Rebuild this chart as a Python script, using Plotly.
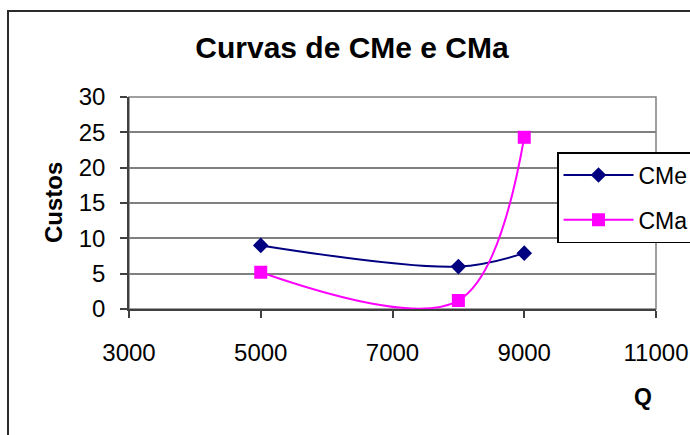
import plotly.graph_objects as go

# Quantidades produzidas e custos médios / marginais
quantidades = [5000, 8000, 9000]
cme = [9.0, 6.0, 7.9]
cma = [5.2, 1.2, 24.3]

x_ticks = [3000, 5000, 7000, 9000, 11000]
y_ticks = [0, 5, 10, 15, 20, 25, 30]

FONT = "Arial, Liberation Sans, sans-serif"
W, H = 690, 435
ML, MR, MT, MB = 129, 34, 97, 126
PW, PH = W - ML - MR, H - MT - MB


def px_to_paper_x(px):
    return (px - ML) / PW


def px_to_paper_y(py):
    return 1 - (py - MT) / PH


fig = go.Figure()

fig.add_trace(go.Scatter(
    x=quantidades, y=cme, name="CMe", legendgroup="cme",
    mode="lines+markers",
    line=dict(color="#000080", width=2, shape="spline", smoothing=1),
    marker=dict(symbol="diamond", size=12, color="#000080"),
))
fig.add_trace(go.Scatter(
    x=quantidades, y=cma, name="CMa", legendgroup="cma",
    mode="lines+markers",
    line=dict(color="#FF00FF", width=2, shape="spline", smoothing=1),
    marker=dict(symbol="square", size=13, color="#FF00FF"),
))

# Moldura da área do gráfico e da área de plotagem
fig.add_shape(type="rect", xref="paper", yref="paper",
              x0=px_to_paper_x(8), x1=px_to_paper_x(720),
              y0=px_to_paper_y(470), y1=px_to_paper_y(11),
              line=dict(color="#2b2b2b", width=2), layer="below")
fig.add_shape(type="rect", xref="paper", yref="paper",
              x0=0, x1=1, y0=0, y1=1,
              line=dict(color="#808080", width=1.5), layer="below")

fig.add_annotation(text="<b>Custos</b>", xref="paper", yref="paper",
                   x=px_to_paper_x(53), y=0.5, textangle=-90,
                   showarrow=False, xanchor="center", yanchor="middle",
                   font=dict(family=FONT, size=24, color="black"))
fig.add_annotation(text="<b>Q</b>", xref="paper", yref="paper",
                   x=px_to_paper_x(643), y=px_to_paper_y(397),
                   showarrow=False, xanchor="center", yanchor="middle",
                   font=dict(family=FONT, size=23, color="black"))

fig.update_layout(
    width=W, height=H,
    margin=dict(l=ML, r=MR, t=MT, b=MB, autoexpand=False),
    paper_bgcolor="white", plot_bgcolor="white",
    font=dict(family=FONT, color="black"),
    title=dict(text="<b>Curvas de CMe e CMa</b>", xref="container", yref="container",
               x=352 / W, y=1 - 47.5 / H, xanchor="center", yanchor="middle",
               font=dict(family=FONT, size=30, color="black")),
    showlegend=True,
    legend=dict(x=px_to_paper_x(557), y=px_to_paper_y(152),
                xanchor="left", yanchor="top",
                bgcolor="white", bordercolor="black", borderwidth=1.5,
                font=dict(family=FONT, size=23, color="black"),
                itemwidth=70, tracegroupgap=12, traceorder="grouped"),
)

fig.update_xaxes(range=[3000, 11000], tickvals=x_ticks,
                 ticktext=[str(v) for v in x_ticks],
                 showgrid=False, zeroline=False,
                 showline=True, linecolor="#404040", linewidth=1.5,
                 ticks="outside", ticklen=7, tickcolor="#404040", tickwidth=1.5,
                 ticklabelstandoff=14, automargin=False,
                 tickfont=dict(family=FONT, size=24, color="black"))
fig.update_yaxes(range=[0, 30], tickvals=y_ticks,
                 showgrid=True, gridcolor="#808080", gridwidth=1.5,
                 zeroline=False,
                 showline=True, linecolor="#404040", linewidth=1.5,
                 ticks="outside", ticklen=7, tickcolor="#404040", tickwidth=1.5,
                 ticklabelstandoff=10, automargin=False,
                 tickfont=dict(family=FONT, size=24, color="black"))

fig.write_html("out.html")
